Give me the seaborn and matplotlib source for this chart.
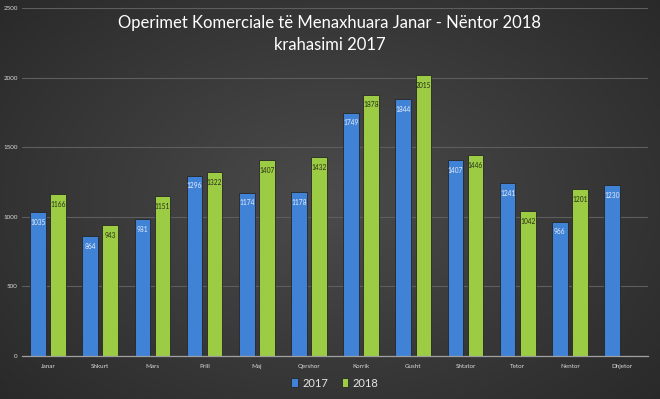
import numpy as np
import pandas as pd
import matplotlib
matplotlib.use("Agg")
import matplotlib.pyplot as plt
import seaborn as sns

months = ["Janar", "Shkurt", "Mars", "Prill", "Maj", "Qershor", "Korrik",
          "Gusht", "Shtator", "Tetor", "Nentor", "Dhjetor"]
v2017 = [1035, 864, 981, 1296, 1174, 1178, 1749, 1844, 1407, 1241, 966, 1230]
v2018 = [1166, 943, 1151, 1322, 1407, 1432, 1878, 2015, 1446, 1042, 1201, np.nan]
years = ["2017", "2018"]
title = "Operimet Komerciale të Menaxhuara Janar - Nëntor 2018\nkrahasimi 2017"

df = pd.DataFrame({
    "Muaji": months * 2,
    "Viti": [years[0]] * len(months) + [years[1]] * len(months),
    "Vlera": v2017 + v2018,
})

sns.set_theme(style="dark")
plt.rcParams["font.family"] = ["Lato", "DejaVu Sans"]

fig = plt.figure(figsize=(6.6, 3.99), dpi=100)

# radial gradient background
bg = fig.add_axes([0, 0, 1, 1], zorder=-10)
yy, xx = np.mgrid[-1:1:200j, -1:1:330j]
r = np.sqrt((xx * 0.85) ** 2 + (yy * 0.75) ** 2)
img = 0.295 - 0.14 * np.clip(r, 0, 1.2) / 1.2
bg.imshow(np.dstack([img, img, img]), aspect="auto", extent=[0, 1, 0, 1])
bg.axis("off")

ax = fig.add_axes([0.0333, 0.1078, 0.9487, 0.8722])
ax.set_facecolor("none")

colors = {"2017": "#3f82d6", "2018": "#9ccb44"}
sns.barplot(data=df, x="Muaji", y="Vlera", hue="Viti", palette=colors,
            saturation=1, width=0.77, gap=0.22, ax=ax, edgecolor="#262626",
            linewidth=0.6, legend=True)

ax.set_ylim(0, 2500)
ax.set_xlim(-0.5, 11.5)
ax.set_yticks(range(0, 2501, 500))
ax.grid(axis="y", color="#5e5e5e", linewidth=0.8)
ax.set_axisbelow(True)
for s in ["top", "right", "left"]:
    ax.spines[s].set_visible(False)
ax.spines["bottom"].set_color("#a0a0a0")
ax.spines["bottom"].set_linewidth(0.9)
ax.set_xlabel("")
ax.set_ylabel("")
ax.tick_params(axis="both", colors="#d8d8d8", labelsize=4.5, length=0, pad=3)
ax.tick_params(axis="x", pad=6)

label_colors = ["#e8eef8", "#26301a"]
for cont, lc in zip(ax.containers, label_colors):
    labels = ["" if np.isnan(v) else f"{int(v)}" for v in cont.datavalues]
    ax.bar_label(cont, labels=labels, padding=-10, fontsize=4.8, color=lc)

leg = ax.legend(loc="center", bbox_to_anchor=(0.5, -0.078), ncol=2,
                frameon=False, fontsize=8, handlelength=0.6, handleheight=0.9,
                handletextpad=0.4, columnspacing=1.2)
for t in leg.get_texts():
    t.set_color("#e6e6e6")

fig.text(0.5, 0.915, title, ha="center", va="center", color="white",
         fontsize=12, linespacing=1.4)

fig.savefig("out.png", dpi=100)
